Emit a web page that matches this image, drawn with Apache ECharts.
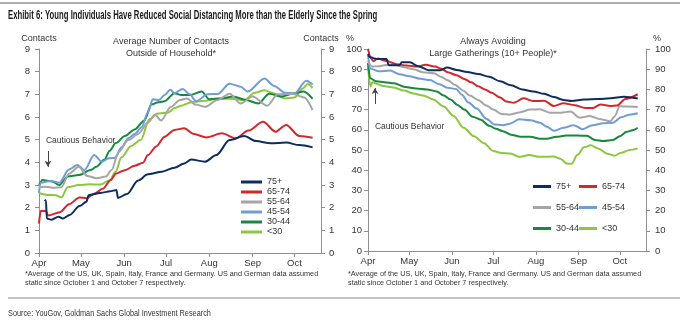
<!DOCTYPE html>
<html><head><meta charset="utf-8">
<script src="https://cdn.jsdelivr.net/npm/echarts@6/dist/echarts.min.js"></script>
<style>html,body{margin:0;padding:0;background:#fff}#c{width:680px;height:321px}</style>
</head><body><div id="c"></div>
<script>
// ---- data ----
const ageGroups = ['75+', '65-74', '55-64', '45-54', '30-44', '<30'];
const monthStartDays = [0, 30, 61, 91, 122, 153, 183]; // days since 1 April 2020
const monthLabels = ['Apr', 'May', 'Jun', 'Jul', 'Aug', 'Sep', 'Oct'];

// Average number of contacts outside household: [day since 1 Apr, contacts]
const contacts75 = [[4,2.35],[5,2.3],[5.6,1.52],[9,1.47],[14,1.6],[17,1.52],[22,1.68],[29,2.07],[34,2.26],[35.5,2.55],[44,2.65],[51,2.72],[55.5,2.78],[56.5,2.43],[63,2.6],[71,3.2],[78,3.47],[88,3.59],[97,3.76],[104,3.95],[109,4.12],[119,4.03],[127,4.32],[136.5,4.98],[147,5.16],[155.5,4.94],[166,4.84],[177,4.87],[186.5,4.76],[196,4.66]];
const contacts6574 = [[0,1.3],[1.2,1.85],[5,1.85],[6.5,1.65],[15,1.8],[21.5,2.15],[29,2.45],[34,2.42],[40,2.63],[45.5,2.83],[51.5,3.22],[55,3.5],[61.5,3.65],[68.5,3.85],[74.5,3.98],[78,4.32],[84,4.7],[90,5.13],[97,5.43],[104,5.5],[111,5.25],[120,5.1],[131,5.28],[141,5.06],[150,5.4],[160.5,5.79],[169.5,5.35],[177,5.65],[186.5,5.16],[196,5.08]];
const contacts5564 = [[0,2.9],[5,2.92],[10,2.88],[16,2.9],[21.5,3.5],[28.5,3.8],[34.5,3.4],[41,3.3],[48,3.37],[52,3.66],[57,4.45],[64,4.98],[71,5.25],[78,5.75],[83,6.1],[87.5,5.85],[94.5,6.45],[101,6.75],[106,6.82],[112,6.55],[119,6.45],[128,6.75],[136.5,7.03],[144.5,6.6],[153,6.9],[163.5,6.5],[171,7.0],[182,7.02],[190,6.86],[196,6.3]];
const contacts4554 = [[0,2.65],[1,3.1],[8.5,3.18],[14.5,3.1],[21.5,3.68],[27.5,3.88],[32.5,3.66],[39.5,4.32],[45,4.03],[50,4.18],[54.5,4.2],[59,4.65],[64,5.06],[68.5,5.25],[73.5,5.55],[78,6.2],[81.5,6.78],[86,6.75],[90,6.97],[94,7.2],[97,7.05],[103,7.24],[108,7.0],[112.5,6.7],[121,7.0],[128,7.02],[136.5,7.47],[144.5,7.34],[149.5,7.12],[161.5,7.7],[168.5,7.37],[176,7.07],[183,7.04],[191.5,7.6],[196,7.43]];
const contacts3044 = [[0,3.0],[2.5,3.22],[9.5,3.15],[14.5,3.0],[20.5,3.38],[28.5,3.44],[37,3.66],[41,3.8],[47,4.13],[50.5,4.5],[55,4.85],[61.5,5.16],[68.5,5.45],[75.5,5.85],[80.5,6.55],[85.5,6.65],[90,6.7],[97,7.05],[102,6.97],[108,6.97],[116.5,7.12],[122,6.78],[130.5,6.82],[139,6.9],[148.5,6.75],[157,6.6],[165,7.03],[173.5,6.9],[182,7.04],[189.5,7.12],[196,6.8]];
const contactsU30 = [[0,2.65],[7,2.56],[12,2.55],[16,2.45],[20.5,2.9],[28.5,3.0],[36,3.03],[44,3.02],[50.5,3.2],[55,3.6],[59,4.22],[66,4.72],[73,5.0],[79,5.9],[85,6.15],[92.5,6.2],[97,6.4],[102,6.5],[109,6.65],[119,6.72],[128,6.8],[138,6.8],[147,6.75],[154.5,7.07],[161.5,7.18],[168.5,7.04],[176,6.82],[183,6.86],[189,7.26],[192.5,7.46],[196,7.28]];

// Always avoiding large gatherings (%): [day since 1 Apr, percent]
const avoid75 = [[0,97.5],[1,96],[7,95],[13.5,95],[15,92],[23,92],[24.5,93.5],[30.5,93.4],[36.5,91.5],[44,89.5],[52.5,89.5],[57.5,90.8],[64.5,89.6],[72,88.6],[80,87.6],[88,86.3],[96,84],[104,82],[112,80],[120,79],[128,77.8],[135,76.2],[142,74.8],[148,74.3],[157,75],[167,75.2],[176,75.6],[186,76.4],[196,75.5]];
const avoid6574 = [[0,100],[2.5,95],[4,94],[7,95.3],[13.5,94],[21,92.5],[28,91.8],[35.5,91.3],[42,92.2],[49,91.3],[53,90.3],[58,88.5],[64.5,87],[70,85.2],[75,83.5],[80,81.5],[85,80],[90,78.3],[96,76],[100.5,74],[106,73.4],[113,75.6],[120,74.2],[128,74.4],[135,71.8],[142,73.2],[150,72.2],[158,70.8],[163,70.8],[169,72.5],[176,71.8],[181,72],[187,75.3],[196,77.6]];
const avoid5564 = [[0,94],[3,91.3],[8,91.5],[12,92],[18,92.5],[26,91],[33,90],[40,88.5],[48,88],[53,86.3],[58,84.5],[63,82.3],[69,79.5],[74,77],[80,74.8],[86,72],[91,70],[97,67.8],[103,67.5],[110,68.6],[118,70],[125,70.2],[132,68.5],[140,68.5],[147,69],[154,66],[161,66.8],[169,65.2],[176,64.2],[179,66.5],[183,71.6],[190,71.5],[196,71.3]];
const avoid4554 = [[0,97],[1.5,90.4],[8,89],[16,89.3],[23,87.5],[30,86.5],[38,85.3],[45,84.6],[52,82.5],[58,80.8],[64,80.2],[68,77.5],[73,73.5],[79,70.5],[86,65.5],[92,62.6],[98,62.3],[103,63],[110,65.2],[118,64.7],[125,63.5],[130,61.5],[135,59.5],[142,61],[149.5,62.3],[156,60.3],[163,62.3],[171,63.2],[178,63.5],[184,66.2],[190,67.5],[196,68.2]];
const avoid3044 = [[0,93],[1.5,85.5],[6,84],[12,83.6],[19,83],[27,81.2],[35,80.5],[43,80],[50,79],[55,77],[60,75],[65,72.3],[70,70],[76,66.5],[82,65],[88,62],[93,60.5],[98,59.3],[104,57.6],[111,56.5],[118,56.6],[125,55.6],[130,55.6],[137,56.5],[144,57.2],[152,57.2],[159,57],[165,55],[171,54.5],[178,55],[183,56.8],[188,59],[193,59.9],[196,61]];
const avoidU30 = [[0,93],[1,84],[2,81.5],[3,83.5],[11,81.7],[18.5,81],[26,79.4],[33,78],[40,77],[47.5,75],[55,71.5],[62,67],[69.5,61],[77,56.8],[84,53.5],[91,49.5],[97,48.5],[103.5,48.3],[110,46.6],[117,47.5],[125,46.6],[135,46.8],[140,45.6],[144.5,43.3],[148,43.2],[152,47.5],[157,51.3],[162,52.3],[167,50.8],[174,48.2],[179,47.2],[184,48.6],[190,50],[196,50.8]];

// annotation anchors (data coordinates)
const cautiousLeft = { textAt: [5, 4.94], arrowFrom: [6.4, 4.5], arrowTo: [6.4, 3.8] };
const cautiousRight = { textAt: [5, 61.4], arrowFrom: [5.1, 72.8], arrowTo: [5.1, 80.7] };

// ---- styling / build ----
const colors = ['#0c2d5f', '#d2282c', '#a5a5a5', '#6f9dd4', '#16893d', '#8dc63f'];
const axisGray = '#8f8f8f';
const txt = '#333333';
const ff = '"Liberation Sans", Arial, sans-serif';
const contactSeries = [contacts75, contacts6574, contacts5564, contacts4554, contacts3044, contactsU30];
const avoidSeries = [avoid75, avoid6574, avoid5564, avoid4554, avoid3044, avoidU30];

function xAxis(gridIndex) {
  return {
    type: 'value', gridIndex, min: 0, max: 202,
    axisLine: { show: true, lineStyle: { color: axisGray, width: 1 } },
    axisTick: { show: true, customValues: monthStartDays, length: 4, lineStyle: { color: axisGray } },
    axisLabel: { customValues: monthStartDays, formatter: v => monthLabels[monthStartDays.indexOf(v)],
      color: txt, fontSize: 9.5, fontFamily: ff, margin: 5 },
    splitLine: { show: false }
  };
}
function yAxis(gridIndex, position, max, interval, name, nameShift, margin) {
  return {
    type: 'value', gridIndex, position, min: 0, max, interval,
    name, nameLocation: 'end', nameGap: 6,
    nameTextStyle: { color: txt, fontSize: 9, fontFamily: ff, padding: nameShift },
    axisLine: { show: true, lineStyle: { color: axisGray, width: 1 } },
    axisTick: { show: true, length: 4, lineStyle: { color: axisGray } },
    axisLabel: { color: txt, fontSize: 9.5, fontFamily: ff, margin },
    splitLine: { show: false }
  };
}

const series = [];
ageGroups.forEach((g, i) => {
  const base = { name: g, type: 'line', showSymbol: false, smooth: 0.3, smoothMonotone: 'x',
    lineStyle: { width: 2, color: colors[i] }, itemStyle: { color: colors[i] }, z: 10 - i, animation: false };
  const s1 = Object.assign({}, base, { xAxisIndex: 0, yAxisIndex: 0, data: contactSeries[i] });
  const s2 = Object.assign({}, base, { xAxisIndex: 1, yAxisIndex: 2, data: avoidSeries[i] });
  if (i === 0) {
    [[s1, cautiousLeft], [s2, cautiousRight]].forEach(([s, c]) => {
      s.markLine = { silent: true, symbol: ['none', 'arrow'], symbolSize: [5, 6], animation: false,
        lineStyle: { color: '#444', width: 1, type: 'solid' }, label: { show: false },
        data: [[{ coord: c.arrowFrom }, { coord: c.arrowTo }]] };
      s.markPoint = { silent: true, symbol: 'circle', symbolSize: 0, animation: false,
        itemStyle: { color: 'rgba(0,0,0,0)' },
        label: { show: true, position: 'right', distance: 0, formatter: 'Cautious Behavior',
          color: txt, fontSize: 8.5, fontFamily: ff },
        data: [{ coord: c.textAt }] };
    });
  }
  series.push(s1, s2);
});

const legendBase = { orient: 'vertical', icon: 'rect', itemHeight: 3, padding: 0,
  textStyle: { color: txt, fontSize: 9, fontFamily: ff, lineHeight: 9 }, selectedMode: false };

const footnote = '*Average of the US, UK, Spain, Italy, France and Germany. US and German data assumed\nstatic since October 1 and October 7 respectively.';

const option = {
  animation: false,
  backgroundColor: '#ffffff',
  grid: [
    { left: 39, right: 359, top: 49, bottom: 68 },
    { left: 368, right: 34, top: 49, bottom: 70 }
  ],
  xAxis: [xAxis(0), xAxis(1)],
  yAxis: [
    yAxis(0, 'left', 9, 1, 'Contacts', [0, 0, 0, 0], 9),
    yAxis(0, 'right', 9, 1, 'Contacts', [0, 0, 0, 0], 8),
    yAxis(1, 'left', 100, 10, '%', [0, 36, 0, 0], 6),
    yAxis(1, 'right', 100, 10, '%', [0, 0, 0, 22], 9)
  ],
  legend: [
    Object.assign({}, legendBase, { data: ageGroups, left: 241, top: 177.5, itemGap: 1, itemWidth: 21 }),
    Object.assign({}, legendBase, { data: ['75+', '55-64', '30-44'], left: 533, top: 182, itemGap: 12, itemWidth: 18 }),
    Object.assign({}, legendBase, { data: ['65-74', '45-54', '<30'], left: 579, top: 182, itemGap: 12, itemWidth: 18 })
  ],
  title: [
    { text: 'Average Number of Contacts\nOutside of Household*', left: 166, top: 31, textAlign: 'center',
      textStyle: { fontSize: 9, fontWeight: 'normal', color: txt, fontFamily: ff, lineHeight: 12 } },
    { text: 'Always Avoiding\nLarge Gatherings (10+ People)*', left: 488, top: 31, textAlign: 'center',
      textStyle: { fontSize: 9, fontWeight: 'normal', color: txt, fontFamily: ff, lineHeight: 12 } },
    { text: footnote, left: 25, top: 269, padding: 0,
      textStyle: { fontSize: 7.3, fontWeight: 'normal', color: txt, fontFamily: ff, lineHeight: 9.5 } },
    { text: footnote, left: 348, top: 269, padding: 0,
      textStyle: { fontSize: 7.3, fontWeight: 'normal', color: txt, fontFamily: ff, lineHeight: 9.5 } }
  ],
  graphic: [
    { type: 'line', shape: { x1: 0, y1: 3, x2: 680, y2: 3 }, style: { stroke: '#b0b0b0', lineWidth: 2 } },
    { type: 'line', shape: { x1: 8, y1: 298, x2: 680, y2: 298 }, style: { stroke: '#b0b0b0', lineWidth: 1.5 } },
    { type: 'text', x: 8, y: 9.5, scaleX: 0.645, style: { text: 'Exhibit 6: Young Individuals Have Reduced Social Distancing More than the Elderly Since the Spring',
      font: 'bold 12px "Liberation Sans", Arial, sans-serif', fill: '#1a1a1a' } },
    { type: 'text', x: 8, y: 308, scaleX: 0.77, style: { text: 'Source: YouGov, Goldman Sachs Global Investment Research',
      font: '9.5px "Liberation Sans", Arial, sans-serif', fill: '#333' } }
  ],
  series
};

const chart = echarts.init(document.getElementById('c'), null, { renderer: 'canvas' });
chart.setOption(option);
</script></body></html>
